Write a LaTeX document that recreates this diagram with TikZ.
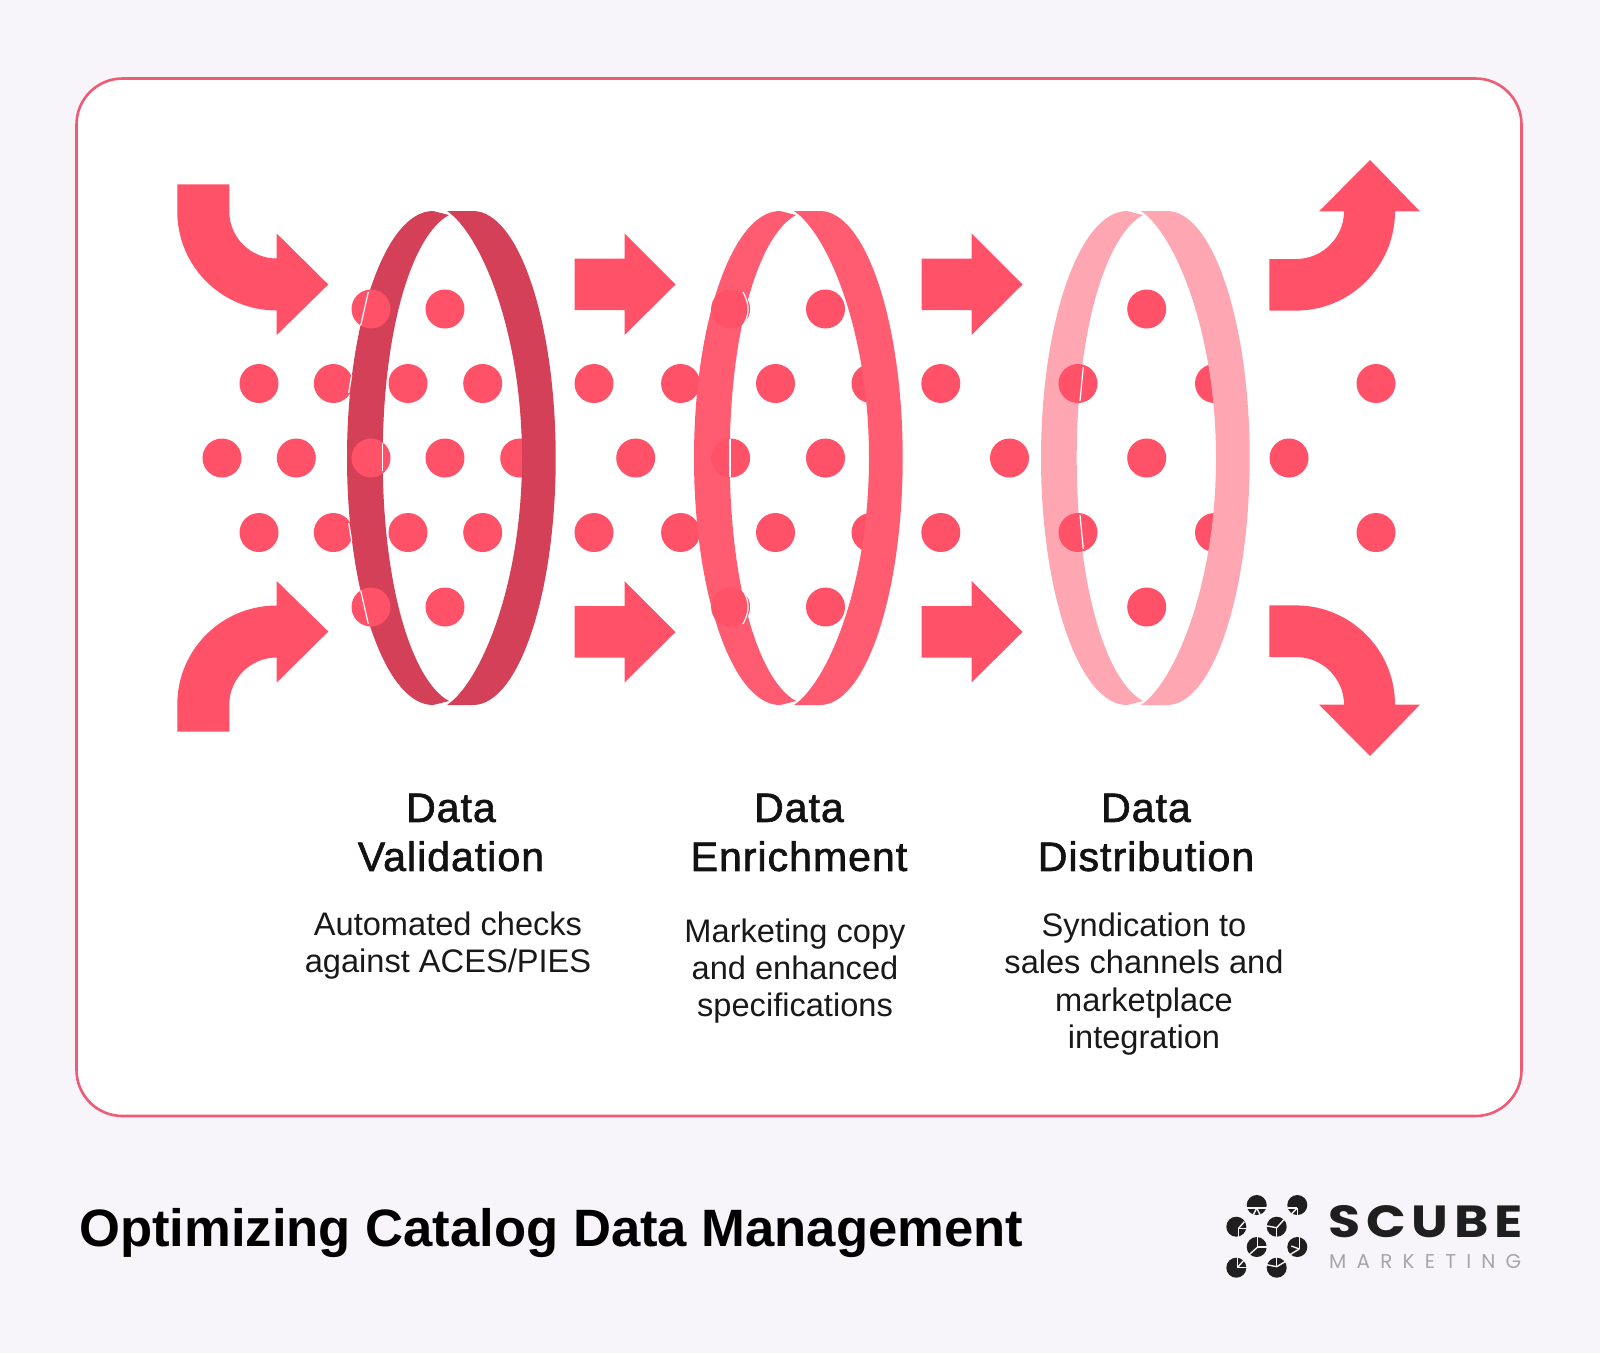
\documentclass[tikz,border=0pt]{standalone}
\usepackage{fontspec}
\setmainfont{Liberation Sans}
\newfontfamily\logofont{Poppins}
\newfontfamily\logowide[FakeStretch=1.16,LetterSpace=13]{Poppins}
\newfontfamily\headfont[FakeBold=1.6,LetterSpace=2.5]{Liberation Sans}
\definecolor{pagebg}{HTML}{F7F5F9}
\definecolor{coral}{HTML}{FF5269}
\definecolor{panelline}{HTML}{EF5A75}
\definecolor{ringdark}{HTML}{D34057}
\definecolor{ringmid}{HTML}{FF5C72}
\definecolor{ringpale}{HTML}{FFA6B3}
\tikzset{
  reddot/.style={circle,fill=coral,draw=none,minimum size=39pt,inner sep=0pt},
  bighead/.style={font=\headfont\fontsize{41}{49}\selectfont,align=center,inner sep=0pt,text=black!93},
  smalltext/.style={font=\fontsize{32.6}{37.3}\selectfont,align=center,inner sep=0pt,text=black!90},
  slit/.style={white,line width=1.2pt},
  cut/.style={pagebg,line width=1.4pt}
}
\begin{document}
\begin{tikzpicture}[x=1pt,y=-1pt]
  \fill[pagebg] (0,0) rectangle (1600,1353);
  \useasboundingbox (0,0) rectangle (1600,1353);
  \draw[panelline,fill=white,line width=2.6pt,rounded corners=46pt] (76.5,78.5) rectangle (1521.5,1116);

  % dots that stay behind the rings
  \foreach \cx/\cy in {222/458,296.3/458,259/383.5,333.3/383.5,259/532.5,333.3/532.5,
      408/383.5,482.7/383.5,408/532.5,482.7/532.5,445/309,445/458,445/607,519.7/458,
      594/383.5,680.6/383.5,594/532.5,680.6/532.5,635.7/458,
      775.5/383.5,871/383.5,775.5/532.5,871/532.5,825.5/309,825.5/458,825.5/607,
      940.8/383.5,940.8/532.5,1009.5/458,
      1146.7/309,1146.7/458,1146.7/607,1214.5/383.5,1214.5/532.5,
      1289/458,1376/383.5,1376/532.5}
    \node[reddot] at (\cx,\cy) {};

  % rings
  \foreach \ringx/\ringcol in {0/ringdark,347/ringmid,694/ringpale} {
    \begin{scope}[xshift=\ringx]
      \fill[\ringcol] (433,211) .. controls (385.5,211) and (347,322.5) .. (347,458)
        .. controls (347,593.5) and (385.5,705) .. (433,705) -- (449,701)
        .. controls (412,681) and (382.7,586) .. (382.7,458)
        .. controls (382.7,330) and (412,235) .. (449,215) -- cycle;
      \fill[\ringcol] (447,211) -- (473,211) .. controls (518.8,211) and (555.7,322.5) .. (555.7,458)
        .. controls (555.7,593.5) and (518.8,705) .. (473,705) -- (447,705)
        .. controls (480,683) and (522,586) .. (522,458)
        .. controls (522,330) and (480,233) .. (447,211) -- cycle;
    \end{scope}
  }

  % dots in front of the rings
  \foreach \cx/\cy in {371/309,371/458,371/607,730.6/309,730.6/458,730.6/607,1078/383.5,1078/532.5}
    \node[reddot] at (\cx,\cy) {};
  \draw[slit] (368.3,292) -- (360.7,325.5);
  \draw[slit] (382.7,443) -- (382.7,471);
  \draw[slit] (360.7,590.5) -- (368.3,624);
  \draw[slit] (351.7,375) -- (348.7,393);
  \draw[slit] (348.7,523) -- (351.7,541);
  \draw[slit] (743,292) .. controls (750,305) and (750,315) .. (742,327);
  \draw[slit] (730,439) -- (730,477);
  \draw[slit] (742,589) .. controls (750,601) and (750,611) .. (743,624);
  \draw[slit] (1083.3,367) -- (1080,401);
  \draw[slit] (1080,515) -- (1083.3,549);

  % straight arrows
  \foreach \ax in {0,347}
    \foreach \ay in {0,347.5}
      \fill[coral] (574.5+\ax,258.5+\ay) -- (624.5+\ax,258.5+\ay) -- (624.5+\ax,233.5+\ay) -- (675.5+\ax,284.5+\ay)
        -- (624.5+\ax,335+\ay) -- (624.5+\ax,310+\ay) -- (574.5+\ax,310+\ay) -- cycle;

  % curved arrows
  \fill[coral] (177.3,184.4) -- (229.3,184.4) -- (229.3,211.5)
    .. controls (229.3,237.5) and (250.7,258.5) .. (276.7,258.5)
    -- (276.7,233.5) -- (328.3,284.5) -- (276.7,335) -- (276.7,310.5)
    .. controls (221.8,310.5) and (177.3,266.4) .. (177.3,211.5) -- cycle;
  \fill[coral] (177.3,731.6) -- (229.3,731.6) -- (229.3,704.5)
    .. controls (229.3,678.5) and (250.7,657.5) .. (276.7,657.5)
    -- (276.7,682.5) -- (328.3,631.5) -- (276.7,581) -- (276.7,605.5)
    .. controls (221.8,605.5) and (177.3,649.6) .. (177.3,704.5) -- cycle;
  \fill[coral] (1269.3,259) -- (1296,259) .. controls (1322.5,259) and (1344,237.5) .. (1344,211.4)
    -- (1319,211.4) -- (1370,160) -- (1420,211.4) -- (1395,211.4)
    .. controls (1395,266) and (1350.7,310.6) .. (1296,310.6) -- (1269.3,310.6) -- cycle;
  \fill[coral] (1269.3,657) -- (1296,657) .. controls (1322.5,657) and (1344,678.5) .. (1344,704.6)
    -- (1319,704.6) -- (1370,756) -- (1420,704.6) -- (1395,704.6)
    .. controls (1395,650) and (1350.7,605.4) .. (1296,605.4) -- (1269.3,605.4) -- cycle;

  % labels
  \node[bighead] (valhead) at (451,832.5) {Data\\Validation};
  \node[bighead] (enrhead) at (799,832.5) {Data\\Enrichment};
  \node[bighead] (dishead) at (1146,832.5) {Data\\Distribution};
  \node[smalltext] (valtext) at (448,945.5) {Automated checks\\against ACES/PIES};
  \node[smalltext] (enrtext) at (795,971) {Marketing copy\\and enhanced\\specifications};
  \node[smalltext] (distext) at (1144,984) {Syndication to\\sales channels and\\marketplace\\integration};

  % footer
  \node[anchor=west,inner sep=0pt,font=\fontsize{52.6}{60}\selectfont\bfseries] (maintitle) at (79,1233)
    {Optimizing Catalog Data Management};

  % logo
  \foreach \lx/\ly/\ox/\oy/\ax/\ay/\bx/\by/\dx/\dy in {
      1256.7/1205/0/3/-11/3/11/3/-4/11,
      1297.3/1205/0/3/-9/3/0/11/-8/11,
      1236.3/1226.7/2/2/2/11/11/2/8/-5,
      1276.7/1226.7/0/1/0/11/-11/-1/8/-8,
      1256.7/1247/1/0/1/-11/11/0/-8/8,
      1297.3/1247/2/2/2/-11/-8/8/-6/-1,
      1236.3/1267.7/1/0/1/-11/11/0/8/-8,
      1276.7/1267.7/0/-1/0/-11/10/-7/-10/-3} {
    \fill[black!88] (\lx,\ly) circle (10pt);
    \draw[cut] (\lx+\ox,\ly+\oy) -- (\lx+\ax,\ly+\ay);
    \draw[cut] (\lx+\ox,\ly+\oy) -- (\lx+\bx,\ly+\by);
    \draw[cut] (\lx+\ox,\ly+\oy) -- (\lx+\dx,\ly+\dy);
  }
  \draw[cut] (1256.7,1208) -- (1260.7,1216);
  \node[anchor=west,inner sep=0pt,font=\logowide\fontsize{45}{45}\selectfont\bfseries,text=black!88] (logoname) at (1328,1222) {SCUBE};
  \node[anchor=west,inner sep=0pt,font=\logofont\fontsize{20}{20}\selectfont\addfontfeature{LetterSpace=51},text=black!35] (logosub) at (1329,1261) {MARKETING};
\end{tikzpicture}
\end{document}
